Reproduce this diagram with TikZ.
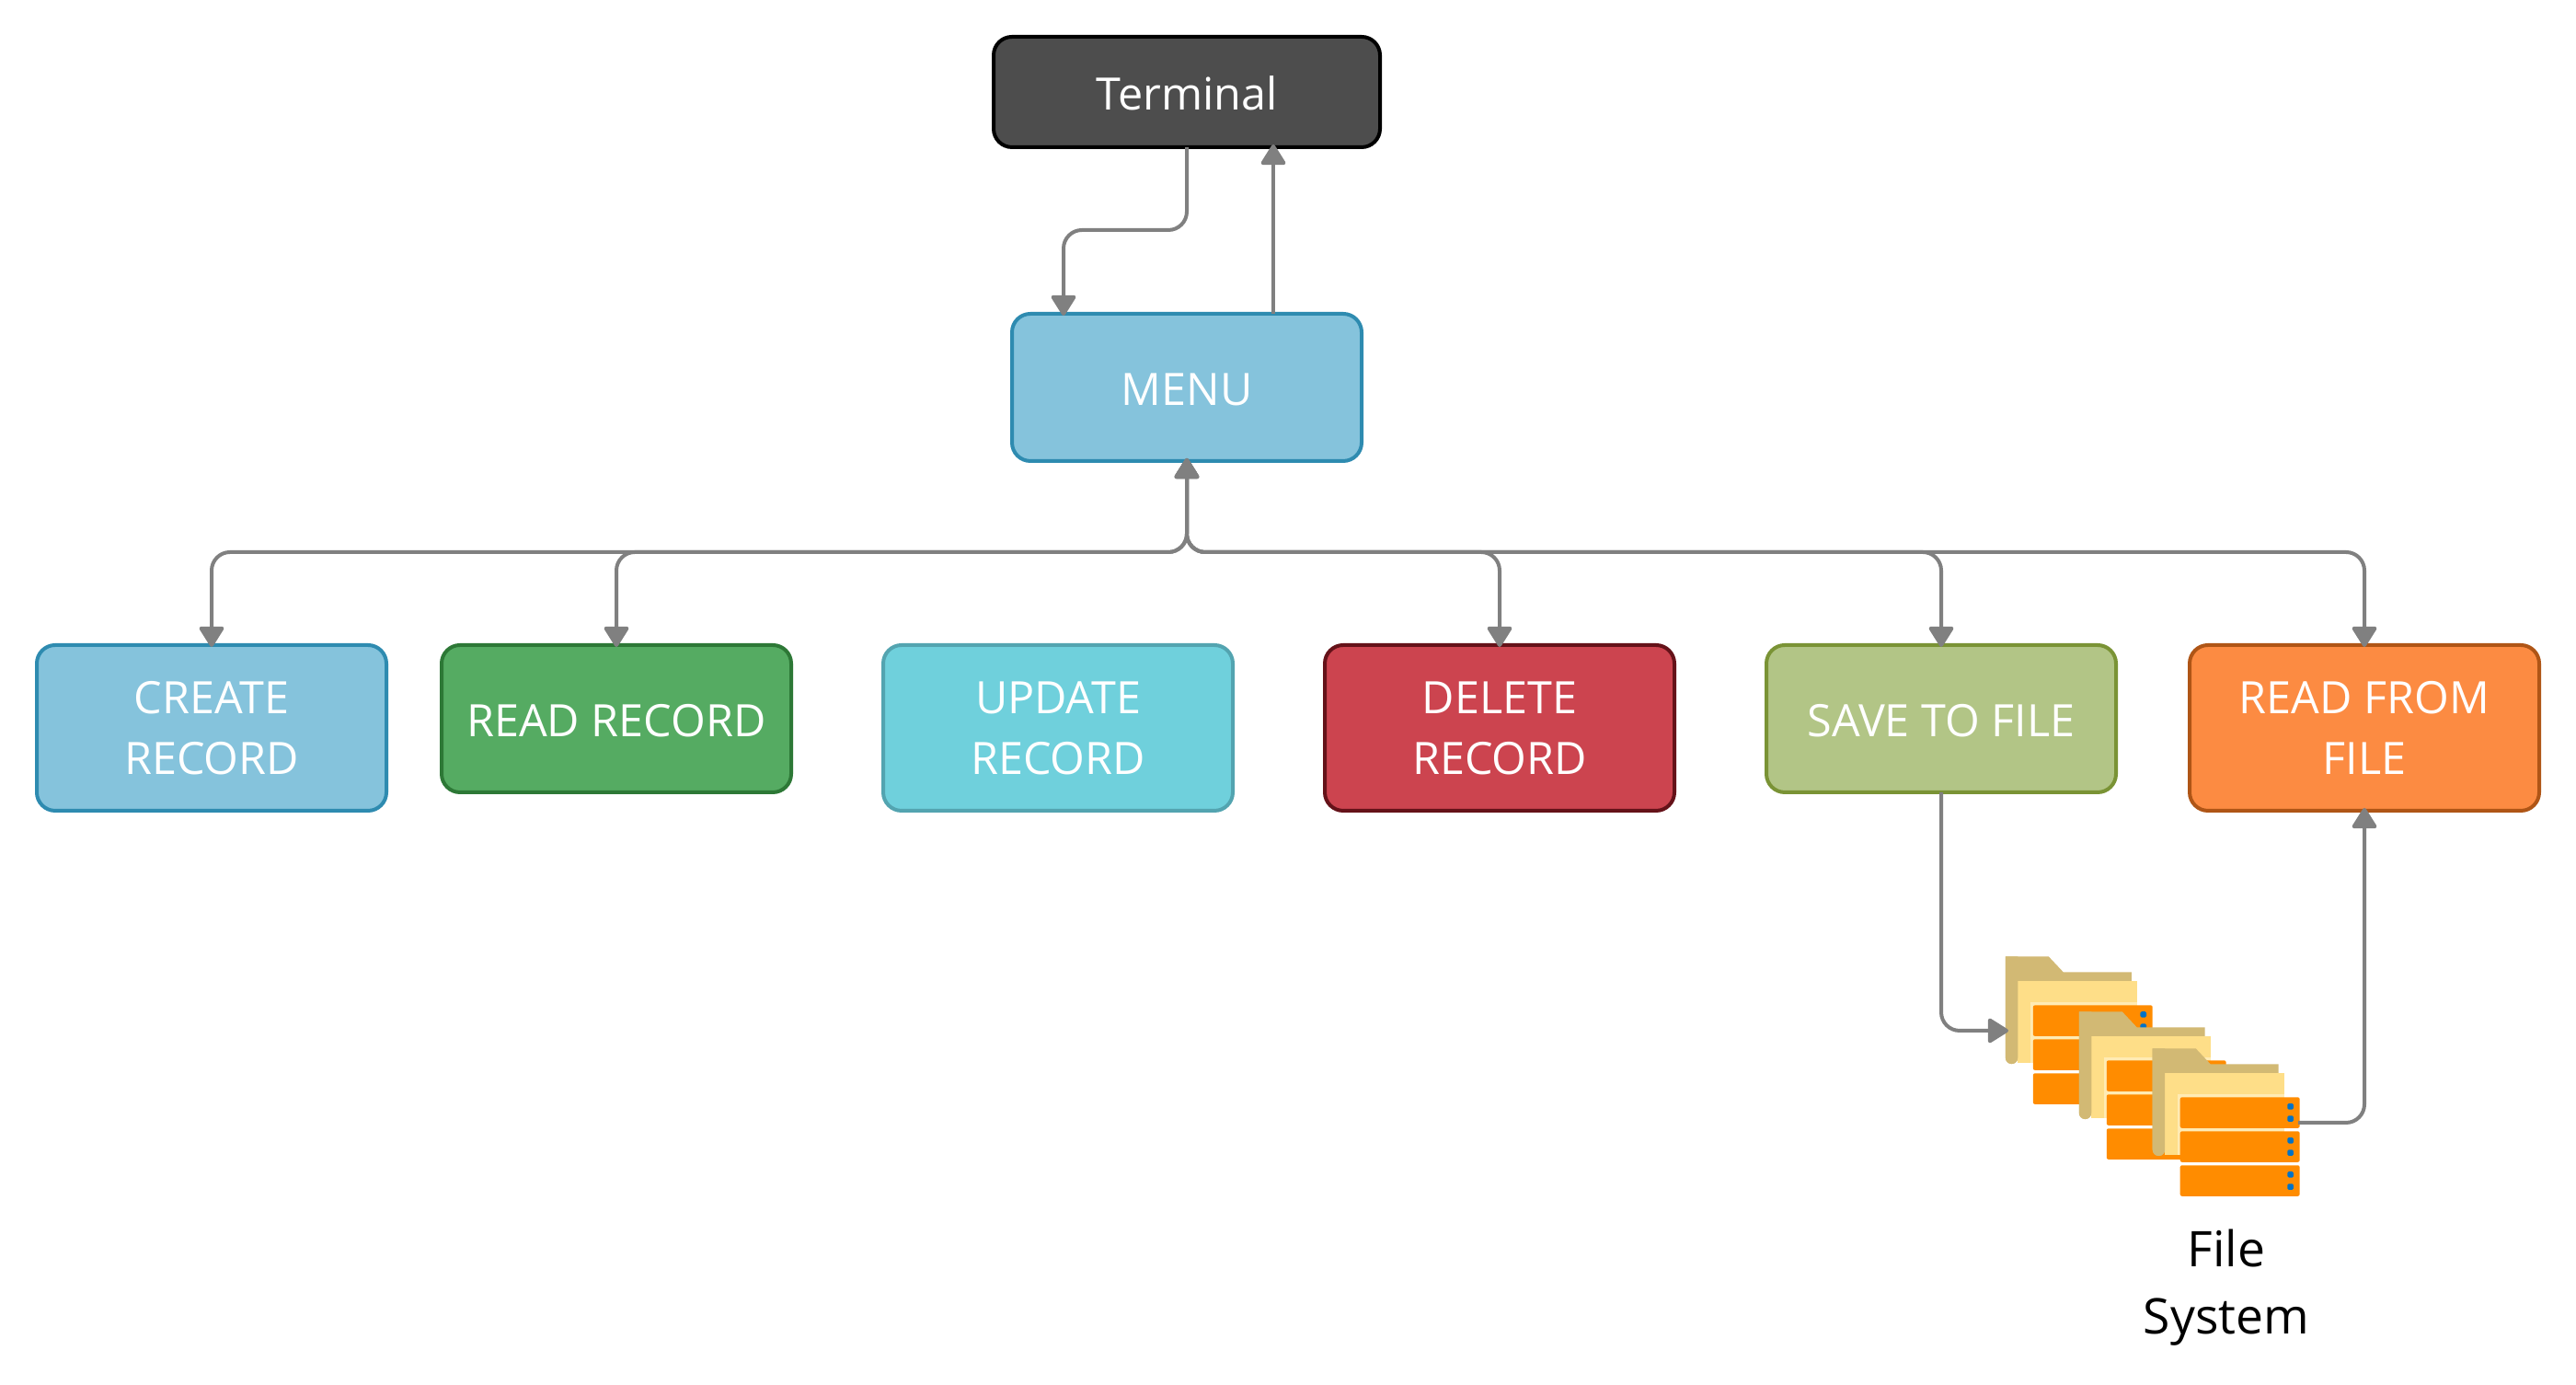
\documentclass[tikz,border=0pt]{standalone}
\usepackage{fontspec}
\setmainfont{Open Sans}
\usetikzlibrary{arrows.meta}
\definecolor{termfill}{HTML}{4D4D4D}
\definecolor{bluefill}{HTML}{85C3DC}
\definecolor{blueline}{HTML}{2E8BB0}
\definecolor{greenfill}{HTML}{55AB62}
\definecolor{greenline}{HTML}{2D7836}
\definecolor{cyanfill}{HTML}{6FD0DC}
\definecolor{cyanline}{HTML}{53A4B0}
\definecolor{redfill}{HTML}{CC444F}
\definecolor{redline}{HTML}{651219}
\definecolor{olivefill}{HTML}{B2C586}
\definecolor{oliveline}{HTML}{7A9335}
\definecolor{orangefill}{HTML}{FC8B42}
\definecolor{orangeline}{HTML}{AF5516}
\definecolor{linkgray}{HTML}{808080}
\definecolor{folderdark}{HTML}{D2B974}
\definecolor{folderlight}{HTML}{FEDE88}
\definecolor{folderpale}{HTML}{FFEBB4}
\definecolor{serverorange}{HTML}{FF8C00}
\definecolor{serverdot}{HTML}{0072C6}

\begin{document}
\begin{tikzpicture}[
  every node/.style={font=\fontsize{13.8}{18.8}\selectfont, align=center, outer sep=0pt},
  box/.style={rounded corners=0.2cm, line width=0.04cm, text=white, minimum width=3.8cm},
  tall/.style={box, minimum height=1.8cm, text depth=-0.09cm},
  short/.style={box, minimum height=1.6cm, text height=0.39cm, text depth=-0.13cm},
  link/.style={draw=linkgray, line width=0.04cm, rounded corners=0.2cm},
  tip/.style={-{Triangle[length=2.4mm, width=2.9mm, round]}},
  twotip/.style={{Triangle[length=2.4mm, width=2.9mm, round]}-{Triangle[length=2.4mm, width=2.9mm, round]}}
]
\useasboundingbox (0,0) rectangle (28,15.05);

\node[short, draw=black, fill=termfill, minimum width=4.2cm, minimum height=1.2cm] (term) at (12.9,14.05) {Terminal};
\node[short, draw=blueline, fill=bluefill] (menu) at (12.9,10.84) {MENU};

\node[tall, draw=blueline, fill=bluefill] (create) at (2.3,7.14) {CREATE\\RECORD};
\node[short, draw=greenline, fill=greenfill] (read) at (6.7,7.24) {READ RECORD};
\node[tall, draw=cyanline, fill=cyanfill] (update) at (11.5,7.14) {UPDATE\\RECORD};
\node[tall, draw=redline, fill=redfill] (delete) at (16.3,7.14) {DELETE\\RECORD};
\node[short, draw=oliveline, fill=olivefill] (save) at (21.1,7.24) {SAVE TO FILE};
\node[tall, draw=orangeline, fill=orangefill] (readfile) at (25.7,7.14) {READ FROM\\FILE};

\foreach \ox/\oy in {2181/1040,2261/1100,2341/1140} {
  \begin{scope}[shift={(\ox*0.01,15.05-\oy*0.01)}, x=0.01cm, y=-0.01cm]
    \fill[folderdark] (0,0) -- (47,0) -- (63,17) -- (137,17) -- (137,30) -- (13.5,30) -- (13.5,110) arc[start angle=0, end angle=180, radius=6.75] -- cycle;
    \fill[folderlight] (13.5,27) rectangle (143,116);
    \fill[folderpale] (27,50) rectangle (143,116);
    \fill[folderdark] (0,0) -- (13.5,0) -- (13.5,110) arc[start angle=0, end angle=180, radius=6.75] -- cycle;
    \foreach \sy in {53,90,127} {
      \fill[serverorange, rounded corners=0.02cm] (30,\sy) rectangle (160,\sy+33.5);
      \fill[serverdot, rounded corners=0.015cm] (146.7,\sy+6.7) rectangle (153.3,\sy+13.3);
      \fill[serverdot, rounded corners=0.015cm] (146.7,\sy+20) rectangle (153.3,\sy+26.6);
    }
  \end{scope}
}
\coordinate (fsin) at (21.83,3.85);
\coordinate (fsout) at (24.98,2.85);
\node[font=\fontsize{15.2}{20.6}\selectfont] (fslabel) at (24.2,1.06) {File\\System};

\coordinate (hub) at (12.9,9.05);
\coordinate (termbend) at (12.9,12.55);
\draw[link, tip] (term.south) -- (termbend) -| ([xshift=-1.34cm, yshift=-0.02cm]menu.north);
\draw[link, tip] ([xshift=0.94cm]menu.north) -- ([xshift=0.94cm, yshift=0.03cm]term.south);
\foreach \target in {create,read,delete,save,readfile} {
  \draw[link, twotip] ([yshift=0.03cm]menu.south) -- (hub) -| ([yshift=-0.02cm]\target.north);
}
\draw[link, tip] (save.south) |- (fsin);
\draw[link, tip] (fsout) -| ([yshift=0.03cm]readfile.south);
\end{tikzpicture}
\end{document}
